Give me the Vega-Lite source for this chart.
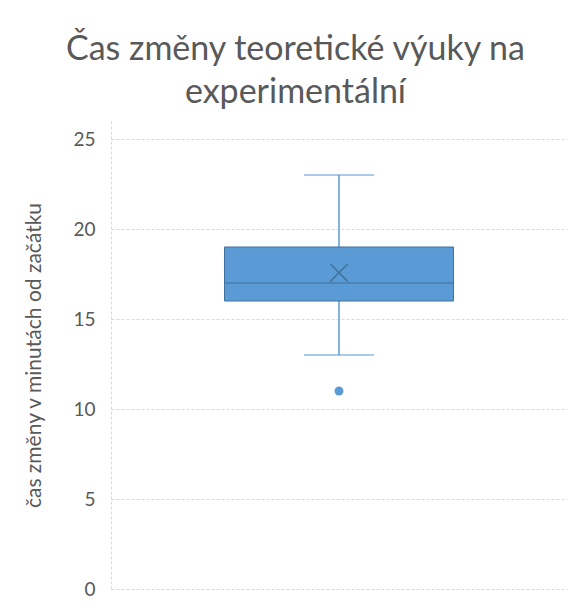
{
  "$schema": "https://vega.github.io/schema/vega-lite/v6.json",
  "autosize": {"type": "none"},
  "padding": {"left": 111, "top": 121, "right": 10, "bottom": 22},
  "width": 456,
  "height": 468,
  "background": "white",
  "config": {"view": {"stroke": null}, "font": "Lato"},
  "title": {
    "text": ["Čas změny teoretické výuky na", "experimentální"],
    "fontSize": 34,
    "fontWeight": "normal",
    "color": "#595959",
    "lineHeight": 43,
    "anchor": "middle",
    "frame": "bounds",
    "offset": 11
  },
  "data": {"values": [
    {"group": "A", "lower": 13, "q1": 16, "median": 17, "q3": 19, "upper": 23, "mean": 17.57, "outlier": 11}
  ]},
  "encoding": {
    "x": {"field": "group", "type": "nominal", "axis": null, "scale": {"paddingInner": 0, "paddingOuter": 0}}
  },
  "layer": [
    {
      "mark": {"type": "rule", "color": "#5B9BD5", "strokeWidth": 1.5},
      "encoding": {
        "y": {"field": "lower", "type": "quantitative", "scale": {"domain": [0, 25]},
          "axis": {"values": [0, 5, 10, 15, 20, 25], "title": "čas změny v minutách od začátku",
            "titleFontSize": 21, "titleFontWeight": "normal", "titleColor": "#595959", "titlePadding": 28,
            "labelFontSize": 19, "labelColor": "#595959", "labelPadding": 16, "ticks": false,
            "domain": true, "domainColor": "#D9D9D9", "domainDash": [3, 2], "domainWidth": 1,
            "grid": true, "gridColor": "#D9D9D9", "gridDash": [3, 2], "gridWidth": 1}},
        "y2": {"field": "upper"}
      }
    },
    {
      "mark": {"type": "tick", "color": "#5B9BD5", "size": 70, "thickness": 1.5},
      "encoding": {"y": {"field": "lower", "type": "quantitative"}}
    },
    {
      "mark": {"type": "tick", "color": "#5B9BD5", "size": 70, "thickness": 1.5},
      "encoding": {"y": {"field": "upper", "type": "quantitative"}}
    },
    {
      "mark": {"type": "bar", "size": 229, "fill": "#5B9BD5", "stroke": "#41719C", "strokeWidth": 1},
      "encoding": {"y": {"field": "q1", "type": "quantitative"}, "y2": {"field": "q3"}}
    },
    {
      "mark": {"type": "tick", "color": "#41719C", "size": 229, "thickness": 1.5},
      "encoding": {"y": {"field": "median", "type": "quantitative"}}
    },
    {
      "mark": {"type": "point", "shape": "M-1,-1L1,1M-1,1L1,-1", "size": 300, "filled": false, "stroke": "#41719C", "strokeWidth": 1.5, "opacity": 1},
      "encoding": {"y": {"field": "mean", "type": "quantitative"}}
    },
    {
      "mark": {"type": "point", "shape": "circle", "size": 80, "filled": true, "color": "#5B9BD5", "opacity": 1},
      "encoding": {"y": {"field": "outlier", "type": "quantitative"}}
    }
  ]
}
